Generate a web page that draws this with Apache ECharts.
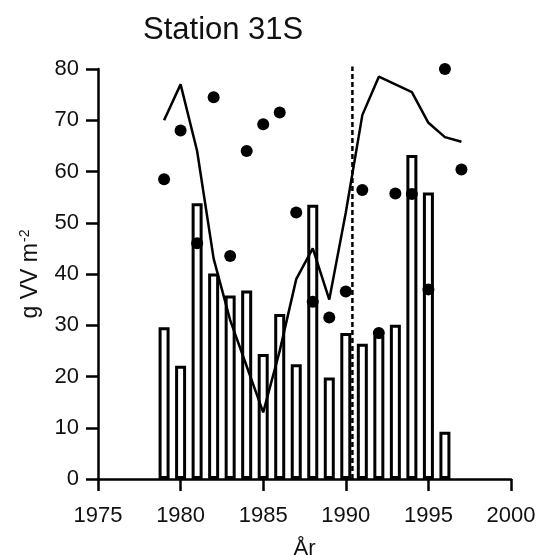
<!DOCTYPE html>
<html>
<head>
<meta charset="utf-8">
<script src="https://cdn.jsdelivr.net/npm/echarts@6/dist/echarts.min.js"></script>
<style>
html,body{margin:0;padding:0;background:#fff;}
#c{width:539px;height:556px;}
</style>
</head>
<body>
<div id="c"></div>
<script>
// ---- data ----
var barYears = [1979,1980,1981,1982,1983,1984,1985,1986,1987,1988,1989,1990,1991,1992,1993,1994,1995,1996];
var barValues = [29.6,22.1,53.8,40.1,35.8,36.8,24.4,32.2,22.4,53.5,19.8,28.5,26.4,28.0,30.1,63.2,55.9,9.2];

var lineYears = [1979,1980,1981,1982,1983,1984,1985,1986,1987,1988,1989,1990,1991,1992,1993,1994,1995,1996,1997];
var lineValues = [70,77,64,43,31,22,13,25,39,45,35,52,71,78.5,77,75.5,69.5,66.7,65.8];

var dotYears = [1979,1980,1981,1982,1983,1984,1985,1986,1987,1988,1989,1990,1991,1992,1993,1994,1995,1996,1997];
var dotValues = [58.5,68,46,74.5,43.5,64,69.2,71.5,52,34.6,31.5,36.6,56.4,28.5,55.7,55.6,37,80,60.4];

var markerYear = 1990.4;
var markerTop = 80.5;

var xTicks = [1975,1980,1985,1990,1995,2000];
var yTicks = [0,10,20,30,40,50,60,70,80];

var titleText = 'Station 31S';
var xName = 'År';
var yNameMain = 'g VV m';
var yNameSup = '-2';

// ---- build chart ----
var FONT = '"Liberation Sans", Arial, Helvetica, sans-serif';
var INK = '#000';

function pairs(xs, ys){ return xs.map(function(x,i){ return [x, ys[i]]; }); }

var chart = echarts.init(document.getElementById('c'), null, {renderer:'canvas'});
chart.setOption({
  animation: false,
  backgroundColor: '#fff',
  title: {
    text: titleText,
    left: 138, top: 10,
    textStyle: {fontFamily: FONT, fontSize: 31, fontWeight: 'normal', color: '#111'}
  },
  grid: {left: 98, right: 28, top: 69, bottom: 77, containLabel: false, outerBoundsMode: 'none'},
  xAxis: {
    type: 'value',
    min: xTicks[0], max: xTicks[xTicks.length-1], interval: 5,
    name: xName, nameLocation: 'middle', nameGap: 59,
    nameTextStyle: {fontFamily: FONT, fontSize: 22, color: '#111'},
    axisLine: {show: true, onZero: false, lineStyle: {color: INK, width: 2.5}},
    axisTick: {show: true, inside: false, length: 12, lineStyle: {color: INK, width: 2.5}},
    axisLabel: {margin: 26, fontFamily: FONT, fontSize: 22, color: '#111', formatter: function(v){return String(v);}},
    splitLine: {show: false}
  },
  yAxis: {
    type: 'value',
    min: yTicks[0], max: yTicks[yTicks.length-1], interval: 10,
    name: '{b|' + yNameMain + '}{s|' + yNameSup + '}',
    nameLocation: 'middle', nameGap: 54,
    nameTextStyle: {
      fontFamily: FONT, fontSize: 23, color: '#111',
      rich: {
        b: {fontFamily: FONT, fontSize: 23, color: '#111', lineHeight: 26},
        s: {fontFamily: FONT, fontSize: 14, color: '#111', verticalAlign: 'top', lineHeight: 26, padding: [0,0,10,1]}
      }
    },
    axisLine: {show: true, lineStyle: {color: INK, width: 2.5}},
    axisTick: {show: true, inside: false, length: 12, lineStyle: {color: INK, width: 2.5}},
    axisLabel: {margin: 19, fontFamily: FONT, fontSize: 22, color: '#111'},
    splitLine: {show: false}
  },
  series: [
    {
      type: 'bar',
      data: pairs(barYears, barValues),
      barWidth: 11,
      itemStyle: {color: '#fff', borderColor: INK, borderWidth: 3},
      z: 2
    },
    {
      type: 'line',
      data: [[markerYear, 0],[markerYear, markerTop]],
      symbol: 'none',
      clip: false,
      lineStyle: {color: INK, width: 2.5, type: [5,3]},
      z: 3
    },
    {
      type: 'line',
      data: pairs(lineYears, lineValues),
      symbol: 'none',
      clip: false,
      lineStyle: {color: INK, width: 2.5},
      z: 4
    },
    {
      type: 'scatter',
      data: pairs(dotYears, dotValues),
      symbol: 'circle',
      symbolSize: 12,
      clip: false,
      itemStyle: {color: INK, opacity: 1},
      z: 5
    }
  ]
});
</script>
</body>
</html>
